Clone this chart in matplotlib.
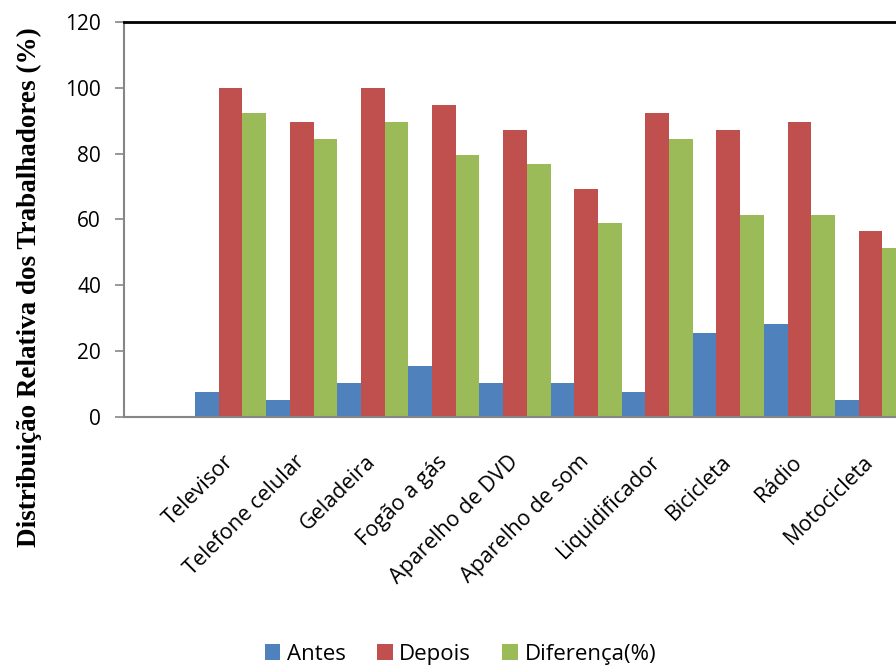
import numpy as np
import matplotlib.pyplot as plt

# Bens de consumo: participação antes e depois
categorias = ['Televisor', 'Telefone celular', 'Geladeira', 'Fogão a gás',
              'Aparelho de DVD', 'Aparelho de som', 'Liquidificador',
              'Bicicleta', 'Rádio', 'Motocicleta']
antes = [7.7, 5.1, 10.3, 15.4, 10.3, 10.3, 7.7, 25.6, 28.2, 5.1]
depois = [100.0, 89.7, 100.0, 94.9, 87.2, 69.2, 92.3, 87.2, 89.7, 56.4]
diferenca = [92.3, 84.6, 89.7, 79.5, 76.9, 59.0, 84.6, 61.5, 61.5, 51.3]

fig = plt.figure(figsize=(8.96, 6.66), dpi=100)
ax = fig.add_axes([0.1384, 0.3739, 0.8728, 0.5931])

x = np.arange(1, len(categorias) + 1)
w = 1 / 3
ax.bar(x - w, antes, w, color='#4F81BD', label='Antes')
ax.bar(x, depois, w, color='#C0504D', label='Depois')
ax.bar(x + w, diferenca, w, color='#9BBB59', label='Diferença(%)')

ax.set_xlim(-0.5, len(categorias) + 0.5)
ax.set_ylim(0, 120)
ax.set_yticks(range(0, 121, 20))

ax.set_xticks(x)
ax.set_xticklabels(categorias, rotation=45, ha='right', va='center',
                   rotation_mode='anchor', fontsize=15.5, family='Open Sans')
ax.tick_params(axis='x', length=0, pad=30)
ax.tick_params(axis='y', length=6.5, width=1.2, color='#868686', labelsize=15, pad=10)
for t in ax.get_yticklabels():
    t.set_family('Open Sans')

ax.spines['right'].set_visible(False)
ax.spines['top'].set_color('black')
ax.spines['top'].set_linewidth(2)
ax.spines['left'].set_color('#868686')
ax.spines['left'].set_linewidth(1.5)
ax.spines['bottom'].set_color('#868686')
ax.spines['bottom'].set_linewidth(1.5)

fig.text(0.033, 0.569, 'Distribuição Relativa dos Trabalhadores (%)', rotation=90,
         ha='center', va='center', fontsize=19.5, fontweight='bold',
         family='Liberation Serif')

fig.legend(loc='center', bbox_to_anchor=(0.514, 0.018), ncol=3, frameon=False,
           prop={'family': 'Open Sans', 'size': 16}, handlelength=0.7,
           handleheight=0.7, handletextpad=0.3, columnspacing=1.4)

plt.savefig('out.png', dpi=100)
